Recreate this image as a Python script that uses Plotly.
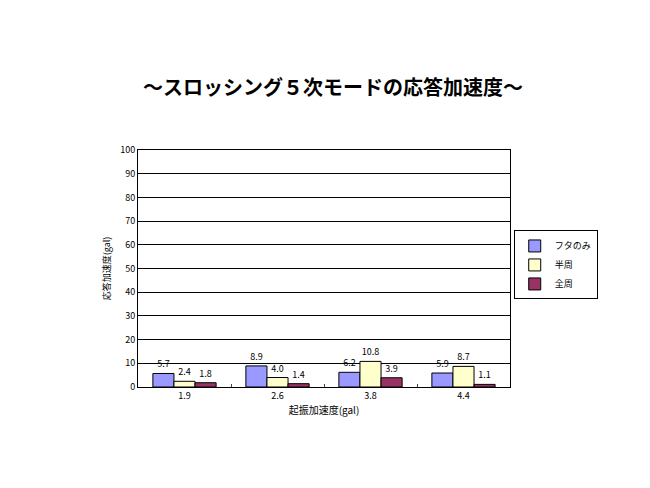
import plotly.graph_objects as go

categories = ["1.9", "2.6", "3.8", "4.4"]
futa_nomi = [5.7, 8.9, 6.2, 5.9]
hanshu = [2.4, 4.0, 10.8, 8.7]
zenshu = [1.8, 1.4, 3.9, 1.1]

series = [
    ("フタのみ", futa_nomi, "#9999FF"),
    ("半周", hanshu, "#FFFFCC"),
    ("全周", zenshu, "#993366"),
]

font_jp = "Noto Sans CJK JP"

fig = go.Figure()
for name, vals, color in series:
    fig.add_trace(go.Bar(
        x=categories, y=vals, name=name,
        marker=dict(color=color, line=dict(color="black", width=1)),
        texttemplate="%{y:.1f}", textposition="outside",
        textfont=dict(size=9, color="black"),
        cliponaxis=False,
    ))

fig.update_layout(
    width=650, height=488,
    margin=dict(l=130, r=148, t=142, b=109),
    paper_bgcolor="white", plot_bgcolor="white",
    font=dict(family=font_jp, color="black"),
    title=dict(text="<b>～スロッシング５次モードの応答加速度～</b>", x=0.5, xanchor="center",
               y=0.836, yanchor="middle", font=dict(size=20, color="black")),
    barmode="group", bargap=0.32, bargroupgap=0,
    showlegend=True,
    legend=dict(x=1.01, y=0.515, xanchor="left", yanchor="middle",
                bordercolor="black", borderwidth=1, font=dict(size=9),
                tracegroupgap=0, itemwidth=30),
)
fig.update_xaxes(
    type="category", tickson="boundaries", ticks="inside", ticklen=3,
    showline=True, linecolor="black", mirror=True,
    tickfont=dict(size=9), title=dict(text="起振加速度(gal)", font=dict(size=10), standoff=6),
)
fig.update_yaxes(
    range=[0, 100], dtick=10, showgrid=True, gridcolor="black", gridwidth=1,
    showline=True, linecolor="black", mirror=True, zeroline=False,
    tickfont=dict(size=9), title=dict(text="応答加速度(gal)", font=dict(size=9), standoff=8),
)

fig.write_html("out.html")
